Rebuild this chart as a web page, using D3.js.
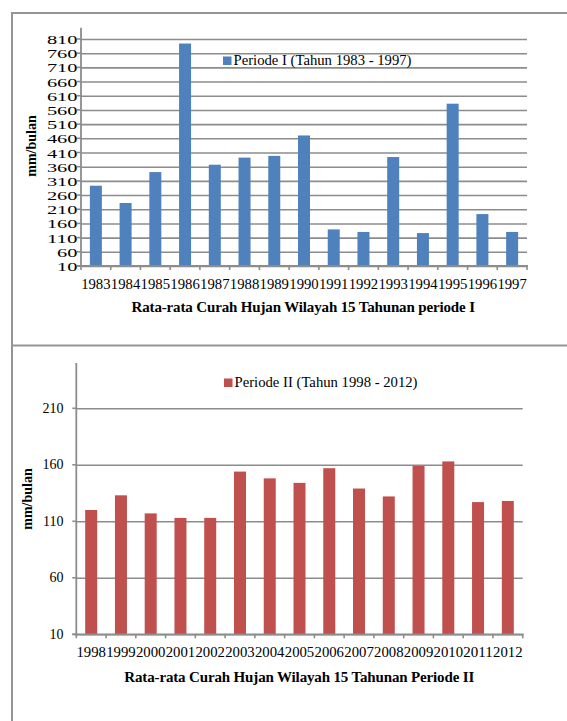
<!DOCTYPE html>
<html>
<head>
<meta charset="utf-8">
<script src="https://cdn.jsdelivr.net/npm/d3@7"></script>
<style>
  html, body { margin: 0; padding: 0; background: #fff; }
  svg { display: block; }
  text { font-family: "Liberation Serif", "Times New Roman", serif; fill: #000; }
</style>
</head>
<body>
<svg id="chart" width="567" height="721"></svg>
<script>
// Period I: monthly average rainfall, 1983-1997
const yearsI = ["1983","1984","1985","1986","1987","1988","1989","1990","1991","1992","1993","1994","1995","1996","1997"];
const rainI = [293, 232, 341, 794, 367, 392, 398, 470, 139, 130, 394, 126, 582, 193, 130];
const ticksI = [10, 60, 110, 160, 210, 260, 310, 360, 410, 460, 510, 560, 610, 660, 710, 760, 810];

// Period II: monthly average rainfall, 1998-2012
const yearsII = ["1998","1999","2000","2001","2002","2003","2004","2005","2006","2007","2008","2009","2010","2011","2012"];
const rainII = [120, 133, 117, 113, 113, 154, 148, 144, 157, 139, 132, 159, 163, 127, 128];
const ticksII = [10, 60, 110, 160, 210];

const legendI = "Periode I (Tahun 1983 - 1997)";
const legendII = "Periode II (Tahun 1998 - 2012)";
const titleI = "Rata-rata Curah Hujan Wilayah 15 Tahunan periode I";
const titleII = "Rata-rata Curah Hujan Wilayah 15 Tahunan Periode II";
const yTitle = "mm/bulan";

const svg = d3.select("#chart");
const GRID = "#8c8c8c";
const FRAME = "#959595";

// Outer frame: top edge, left edge and the divider between the two panels
svg.append("line").attr("x1", 12).attr("x2", 567).attr("y1", 13).attr("y2", 13)
  .attr("stroke", FRAME).attr("stroke-width", 2);
svg.append("line").attr("x1", 12).attr("x2", 12).attr("y1", 12).attr("y2", 721)
  .attr("stroke", FRAME).attr("stroke-width", 2);
svg.append("line").attr("x1", 12).attr("x2", 567).attr("y1", 345.5).attr("y2", 345.5)
  .attr("stroke", FRAME).attr("stroke-width", 2);

function drawPanel(opt) {
  const g = svg.append("g");
  const x = d3.scaleBand().domain(opt.years).range([opt.x0, opt.x1]).padding(0);
  const y = d3.scaleLinear().domain(opt.domain).range([opt.yBottom, opt.yTop]);

  // horizontal gridlines
  const grid = g.append("g")
    .attr("transform", `translate(${opt.x0},0)`)
    .call(d3.axisLeft(y).tickValues(opt.ticks).tickSize(-(opt.x1 - opt.x0)).tickFormat(""));
  grid.select(".domain").remove();
  grid.selectAll(".tick line").attr("stroke", GRID).attr("stroke-width", 1.6);

  // short outer ticks on the value axis
  g.append("g").selectAll("line").data(opt.ticks).join("line")
    .attr("x1", opt.x0 - 4).attr("x2", opt.x0)
    .attr("y1", d => y(d)).attr("y2", d => y(d))
    .attr("stroke", GRID).attr("stroke-width", 1.6);

  // value axis labels
  const yl = g.append("g").selectAll("text").data(opt.ticks).join("text")
    .attr("x", opt.labelRight)
    .attr("y", d => y(d) + opt.labelDy)
    .attr("text-anchor", "end")
    .style("font-size", opt.yFont + "px")
    .text(d => d);
  if (opt.digitW) {
    yl.attr("textLength", d => String(d).length * opt.digitW)
      .attr("lengthAdjust", "spacingAndGlyphs");
  }

  // bars
  const bw = opt.barW;
  g.append("g").selectAll("rect").data(opt.years).join("rect")
    .attr("x", (d) => x(d) + x.bandwidth() / 2 - bw / 2)
    .attr("width", bw)
    .attr("y", (d, i) => y(opt.values[i]))
    .attr("height", (d, i) => y(opt.domain[0]) - y(opt.values[i]))
    .attr("fill", opt.color);

  // value axis line
  g.append("line").attr("x1", opt.x0).attr("x2", opt.x0)
    .attr("y1", y(opt.domain[1])).attr("y2", opt.yBottom + 1)
    .attr("stroke", GRID).attr("stroke-width", 1.8);

  // category axis line with ticks on the band boundaries
  g.append("line").attr("x1", opt.x0 - 4).attr("x2", opt.x1 + 1)
    .attr("y1", opt.yBottom).attr("y2", opt.yBottom)
    .attr("stroke", GRID).attr("stroke-width", 1.8);
  const bounds = opt.years.map(d => x(d)).concat([opt.x1]);
  g.append("g").selectAll("line").data(bounds).join("line")
    .attr("x1", d => d).attr("x2", d => d)
    .attr("y1", opt.yBottom).attr("y2", opt.yBottom + 4)
    .attr("stroke", GRID).attr("stroke-width", 1.6);

  // category labels, each filling its band
  g.append("g").selectAll("text").data(opt.years).join("text")
    .attr("x", d => x(d) + x.bandwidth() / 2)
    .attr("y", opt.xLabelY)
    .attr("text-anchor", "middle")
    .style("font-size", opt.xFont + "px")
    .attr("textLength", x.bandwidth() - 0.3)
    .attr("lengthAdjust", "spacingAndGlyphs")
    .text(d => d);

  // legend
  g.append("rect").attr("x", opt.legX).attr("y", opt.legY - 8.5)
    .attr("width", 8.5).attr("height", 8.5).attr("fill", opt.color);
  g.append("text").attr("x", opt.legX + 10.5).attr("y", opt.legY)
    .style("font-size", "15px")
    .attr("textLength", opt.legW).attr("lengthAdjust", "spacingAndGlyphs")
    .text(opt.legend);

  // axis title
  g.append("text")
    .attr("transform", `translate(${opt.yTitleX},${opt.yTitleY}) rotate(-90)`)
    .attr("text-anchor", "middle")
    .style("font-size", "14px").style("font-weight", "bold")
    .text(yTitle);

  // chart title
  g.append("text").attr("x", opt.titleX).attr("y", opt.titleY)
    .style("font-size", "15px").style("font-weight", "bold")
    .attr("textLength", opt.titleW).attr("lengthAdjust", "spacing")
    .text(opt.title);
}

drawPanel({
  years: yearsI, values: rainI, ticks: ticksI, color: "#4F81BD",
  domain: [10, 850], x0: 81, x1: 527, yBottom: 266, yTop: 266 - 840 * (227 / 800),
  labelRight: 77.5, labelDy: 5, yFont: 13.5, digitW: 10.2,
  barW: 12, xLabelY: 288.5, xFont: 14.6,
  legX: 223, legY: 65, legW: 178, legend: legendI,
  yTitleX: 36, yTitleY: 146,
  titleX: 131.5, titleY: 311.7, titleW: 343.5, title: titleI
});

drawPanel({
  years: yearsII, values: rainII, ticks: ticksII, color: "#C0504D",
  domain: [10, 250], x0: 76.3, x1: 522.7, yBottom: 634.3, yTop: 634.3 - 240 * (226 / 200),
  labelRight: 63.5, labelDy: 4.5, yFont: 14, digitW: 0,
  barW: 12, xLabelY: 656.7, xFont: 14.3,
  legX: 224, legY: 387, legW: 183, legend: legendII,
  yTitleX: 32.3, yTitleY: 499,
  titleX: 124.3, titleY: 681.7, titleW: 350, title: titleII
});
</script>
</body>
</html>
